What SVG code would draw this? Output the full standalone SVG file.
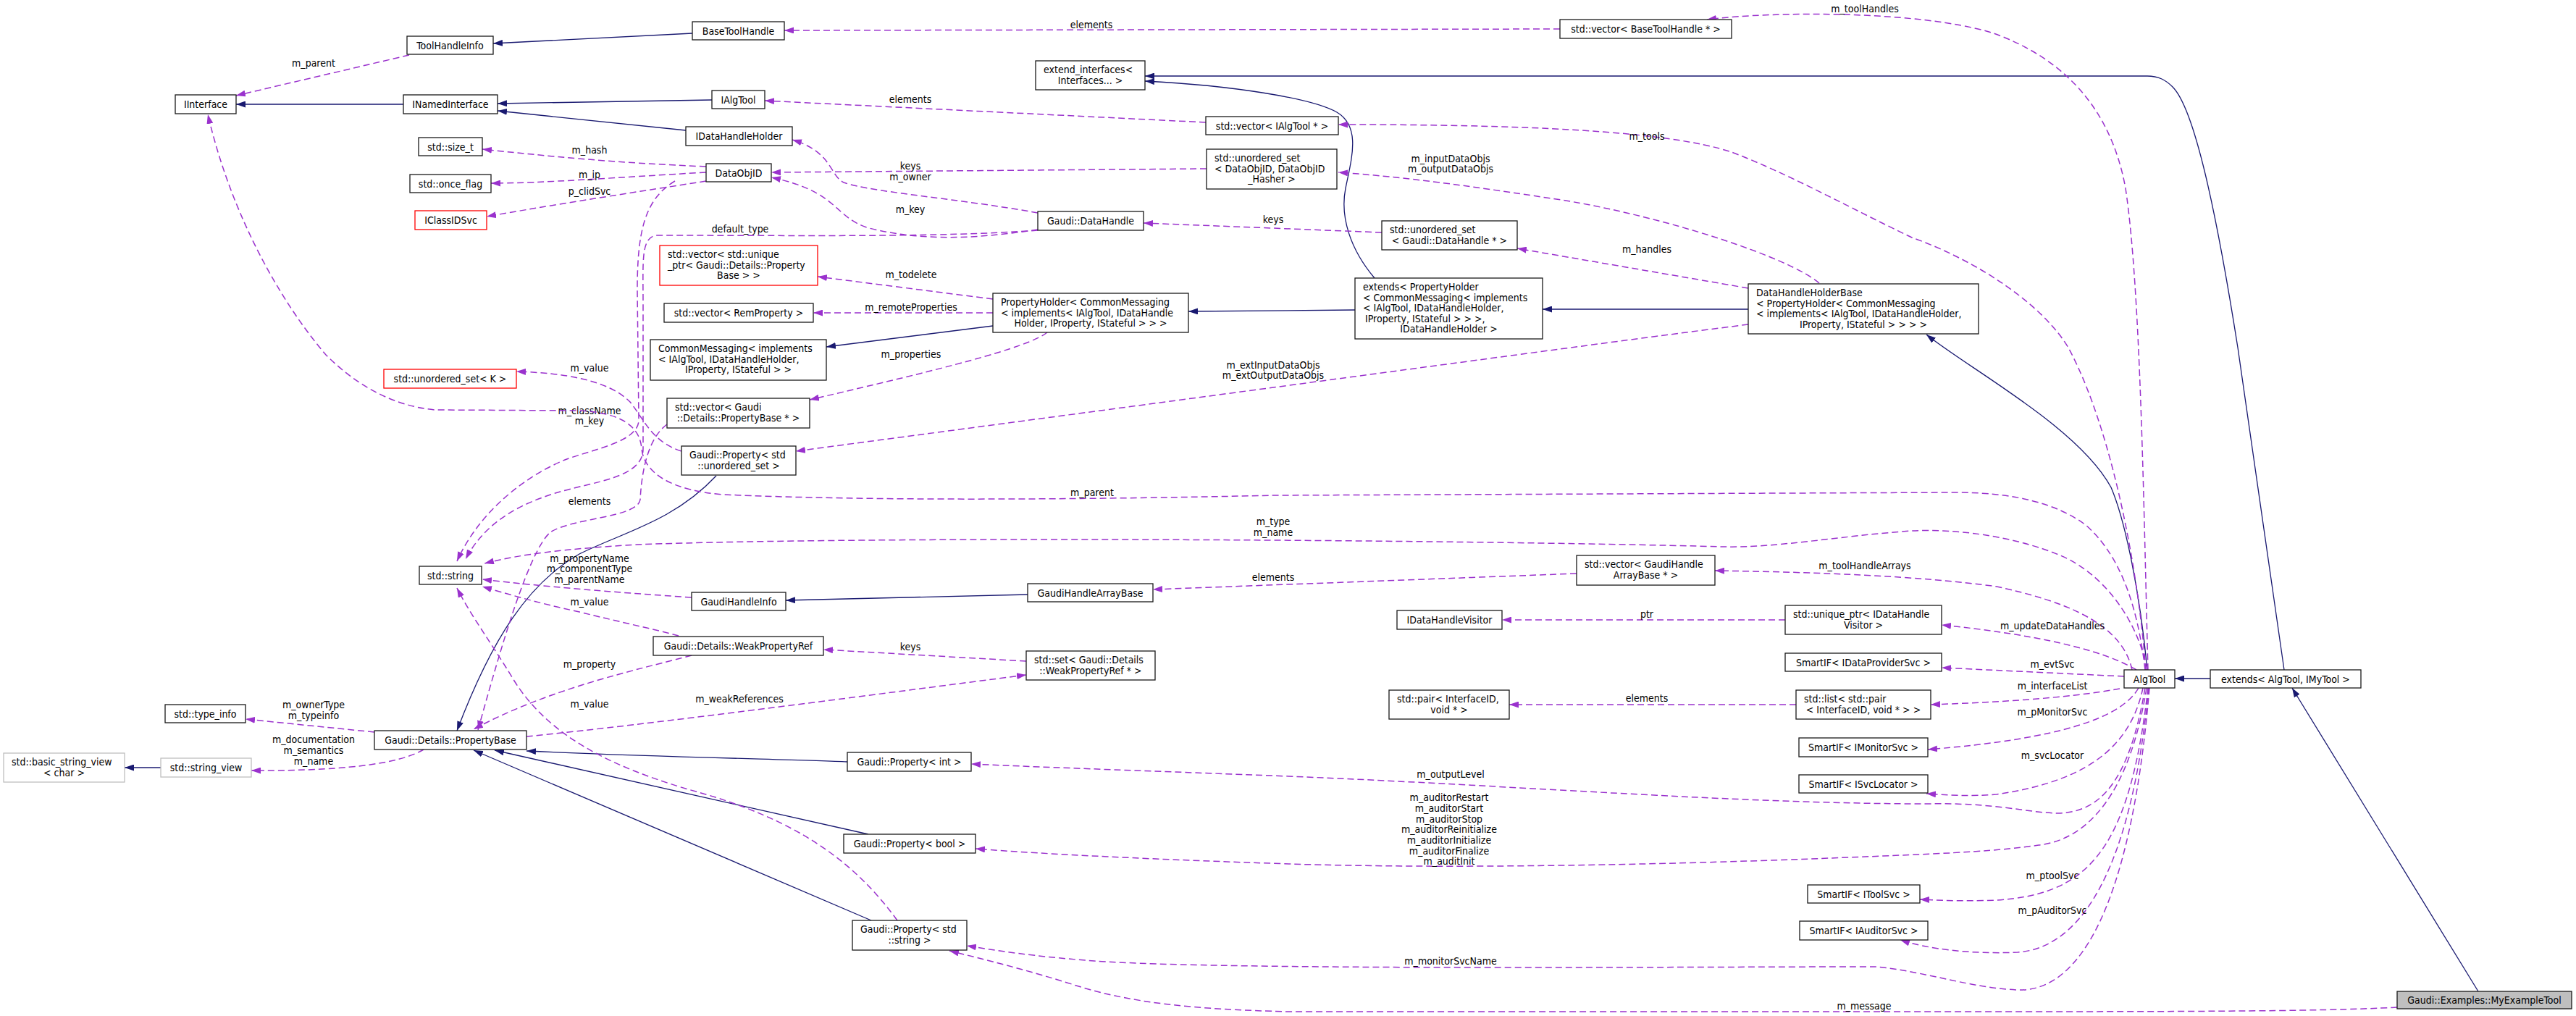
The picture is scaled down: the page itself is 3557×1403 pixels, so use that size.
<svg xmlns="http://www.w3.org/2000/svg" width="3557" height="1403" viewBox="0 0 3557 1403">
<style>
text{font-family:"DejaVu Sans Condensed","DejaVu Sans","Liberation Sans",sans-serif;font-stretch:condensed;font-size:14px;fill:#000}
.n rect{fill:#fff;stroke:#1a1a1a;stroke-width:1.3}
.n.red rect{stroke:#ff0000}
.n.ext rect{stroke:#bfbfbf}
.n.root rect{fill:#bfbfbf}
.c{text-anchor:middle}
.inh{fill:none;stroke:#191970;stroke-width:1.3;marker-end:url(#aB)}
.use{fill:none;stroke:#9a32cd;stroke-width:1.5;stroke-dasharray:9,5;marker-end:url(#aP)}
.lbl{text-anchor:middle}
</style>
<defs>
<marker id="aB" viewBox="0 0 13 9" refX="13" refY="4.5" markerWidth="13" markerHeight="9" markerUnits="userSpaceOnUse" orient="auto"><path d="M0,0L13,4.5L0,9z" fill="#191970"/></marker>
<marker id="aP" viewBox="0 0 13 9" refX="13" refY="4.5" markerWidth="13" markerHeight="9" markerUnits="userSpaceOnUse" orient="auto"><path d="M0,0L13,4.5L0,9z" fill="#9a32cd"/></marker>
</defs>
<rect width="3557" height="1403" fill="#fff"/>
<g id="connectors">
<path class="inh" d="M557,144L326,144"/>
<path class="inh" d="M956,46L681,60"/>
<path class="inh" d="M983,138L687,143"/>
<path class="inh" d="M947,180L687,153"/>
<path class="inh" d="M1898,384C1865,345 1850,300 1858,260C1866,220 1880,175 1846,155C1810,135 1700,118 1581,112"/>
<path class="inh" d="M3154,925L3090,480C3060,290 3030,150 3000,120C2990,110 2980,105 2965,105L1581,105"/>
<path class="inh" d="M2414,427L2130,427"/>
<path class="inh" d="M1871,428L1641,430"/>
<path class="inh" d="M1371,450L1141,479"/>
<path class="inh" d="M2965,925C2955,820 2935,720 2915,673C2870,590 2720,510 2660,462"/>
<path class="inh" d="M3052,937L3003,937"/>
<path class="inh" d="M3422,1369L3165,950"/>
<path class="inh" d="M1419,821L1085,829"/>
<path class="inh" d="M989,657C930,720 860,735 800,765C730,805 680,880 631,1009"/>
<path class="inh" d="M1170,1052C1100,1049 900,1045 727,1037"/>
<path class="inh" d="M1199,1152L683,1036"/>
<path class="inh" d="M1203,1271L654,1036"/>
<path class="inh" d="M222,1060L172,1060"/>

<g><path class="use" d="M565,76L326,132"/><text class="lbl" x="433" y="92">m_parent</text></g>
<g><path class="use" d="M2154,40L1083,42"/><text class="lbl" x="1507" y="39">elements</text></g>
<g><path class="use" d="M2966,925C2960,700 2956,400 2935,260C2915,150 2850,80 2750,45C2650,15 2450,15 2357,27"/><text class="lbl" x="2575" y="17">m_toolHandles</text></g>
<g><path class="use" d="M1665,169L1056,139"/><text class="lbl" x="1257" y="142">elements</text></g>
<g><path class="use" d="M2963,925C2950,760 2910,580 2856,480C2820,420 2730,360 2640,328C2560,290 2470,240 2391,210C2300,180 2100,172 1848,172"/><text class="lbl" x="2274" y="193">m_tools</text></g>
<g><path class="use" d="M1666,233L1065,238"/><text class="lbl" x="1257" y="234">keys</text></g>
<g><path class="use" d="M2512,391C2470,355 2300,300 2162,277C2050,260 1950,245 1848,238"/><text class="lbl" x="2003" y="224">m_inputDataObjs</text><text class="lbl" x="2003" y="238">m_outputDataObjs</text></g>
<g><path class="use" d="M1433,294C1330,275 1200,265 1165,252C1145,242 1150,210 1094,193"/><text class="lbl" x="1257" y="249">m_owner</text></g>
<g><path class="use" d="M1433,317C1360,328 1280,335 1200,315C1150,300 1160,265 1065,245"/><text class="lbl" x="1257" y="294">m_key</text></g>
<g><path class="use" d="M1433,318C1300,328 1100,325 905,325C885,330 888,360 888,420L888,620C888,660 820,665 770,680C720,695 670,720 643,772"/><text class="lbl" x="1022" y="321">default_type</text></g>
<g><path class="use" d="M932,250C890,275 880,320 880,400L882,580C882,610 820,620 780,635C720,660 660,710 631,775"/><text class="lbl" x="814" y="572">m_className</text><text class="lbl" x="814" y="586">m_key</text></g>
<g><path class="use" d="M1908,321L1579,308"/><text class="lbl" x="1758" y="308">keys</text></g>
<g><path class="use" d="M2414,398L2095,343"/><text class="lbl" x="2274" y="349">m_handles</text></g>
<g><path class="use" d="M1371,413L1129,382"/><text class="lbl" x="1258" y="384">m_todelete</text></g>
<g><path class="use" d="M1371,432L1123,432"/><text class="lbl" x="1258" y="429">m_remoteProperties</text></g>
<g><path class="use" d="M1446,459C1420,480 1300,510 1118,552"/><text class="lbl" x="1258" y="494">m_properties</text></g>
<g><path class="use" d="M2414,448C2200,475 1800,530 1099,623"/><text class="lbl" x="1758" y="509">m_extInputDataObjs</text><text class="lbl" x="1758" y="523">m_extOutputDataObjs</text></g>
<g><path class="use" d="M941,623C900,610 890,580 870,555C840,525 780,515 713,513"/><text class="lbl" x="814" y="513">m_value</text></g>
<g><path class="use" d="M921,586C895,605 886,650 884,690C880,715 790,715 760,735C730,760 690,900 660,1008"/><text class="lbl" x="814" y="697">elements</text></g>
<g><path class="use" d="M955,825C850,818 750,810 666,800"/><text class="lbl" x="814" y="776">m_propertyName</text><text class="lbl" x="814" y="790">m_componentType</text><text class="lbl" x="814" y="805">m_parentName</text></g>
<g><path class="use" d="M2965,925C2950,850 2900,790 2845,767C2780,740 2700,730 2640,733C2540,740 2450,757 2380,755C2000,745 1200,740 880,752C780,758 720,765 669,778"/><text class="lbl" x="1758" y="725">m_type</text><text class="lbl" x="1758" y="740">m_name</text></g>
<g><path class="use" d="M937,878C900,868 860,860 800,845C740,832 700,820 666,810"/><text class="lbl" x="814" y="836">m_value</text></g>
<g><path class="use" d="M955,905C880,925 760,950 654,1007"/><text class="lbl" x="814" y="922">m_property</text></g>
<g><path class="use" d="M1239,1271C1180,1190 1100,1130 950,1090C850,1060 760,1020 710,940C680,890 650,850 631,812"/><text class="lbl" x="814" y="977">m_value</text></g>
<g><path class="use" d="M727,1017C900,1000 1200,960 1417,932"/><text class="lbl" x="1021" y="970">m_weakReferences</text></g>
<g><path class="use" d="M1417,913L1137,897"/><text class="lbl" x="1257" y="898">keys</text></g>
<g><path class="use" d="M517,1011L339,993"/><text class="lbl" x="433" y="978">m_ownerType</text><text class="lbl" x="433" y="993">m_typeinfo</text></g>
<g><path class="use" d="M585,1035C560,1050 500,1065 347,1064"/><text class="lbl" x="433" y="1026">m_documentation</text><text class="lbl" x="433" y="1041">m_semantics</text><text class="lbl" x="433" y="1056">m_name</text></g>
<g><path class="use" d="M975,230C850,225 750,215 666,206"/><text class="lbl" x="814" y="212">m_hash</text></g>
<g><path class="use" d="M975,238C850,245 750,253 678,253"/><text class="lbl" x="814" y="246">m_ip</text></g>
<g><path class="use" d="M975,250C880,265 780,280 672,299"/><text class="lbl" x="814" y="269">p_clidSvc</text></g>
<g><path class="use" d="M2944,925C2930,860 2850,830 2757,810C2650,795 2500,790 2368,788"/><text class="lbl" x="2575" y="786">m_toolHandleArrays</text></g>
<g><path class="use" d="M2177,792L1592,814"/><text class="lbl" x="1758" y="802">elements</text></g>
<g><path class="use" d="M2465,856L2074,856"/><text class="lbl" x="2274" y="853">ptr</text></g>
<g><path class="use" d="M2950,925C2900,895 2800,875 2681,863"/><text class="lbl" x="2834" y="869">m_updateDataHandles</text></g>
<g><path class="use" d="M2933,934L2681,922"/><text class="lbl" x="2834" y="922">m_evtSvc</text></g>
<g><path class="use" d="M2927,951C2850,965 2750,970 2666,973"/><text class="lbl" x="2834" y="952">m_interfaceList</text></g>
<g><path class="use" d="M2480,973L2084,973"/><text class="lbl" x="2274" y="969">elements</text></g>
<g><path class="use" d="M2953,950C2930,990 2850,1020 2662,1035"/><text class="lbl" x="2834" y="988">m_pMonitorSvc</text></g>
<g><path class="use" d="M2959,950C2940,1040 2870,1080 2757,1097C2720,1100 2690,1098 2660,1096"/><text class="lbl" x="2834" y="1048">m_svcLocator</text></g>
<g><path class="use" d="M2962,950C2940,1080 2900,1120 2845,1123C2800,1123 2760,1108 2660,1110C2400,1110 2100,1085 1780,1072C1600,1065 1450,1060 1341,1055"/><text class="lbl" x="2003" y="1074">m_outputLevel</text></g>
<g><path class="use" d="M2964,950C2940,1100 2880,1160 2815,1167C2760,1175 2700,1178 2600,1182C2300,1195 2000,1200 1780,1193C1600,1187 1450,1180 1347,1172"/><text class="lbl" x="2001" y="1106">m_auditorRestart</text><text class="lbl" x="2001" y="1121">m_auditorStart</text><text class="lbl" x="2001" y="1136">m_auditorStop</text><text class="lbl" x="2001" y="1150">m_auditorReinitialize</text><text class="lbl" x="2001" y="1165">m_auditorInitialize</text><text class="lbl" x="2001" y="1180">m_auditorFinalize</text><text class="lbl" x="2001" y="1194">m_auditInit</text></g>
<g><path class="use" d="M2966,950C2940,1180 2880,1235 2757,1243C2700,1245 2680,1243 2651,1242"/><text class="lbl" x="2834" y="1214">m_ptoolSvc</text></g>
<g><path class="use" d="M2967,950C2940,1230 2860,1310 2786,1315C2720,1318 2660,1310 2624,1298"/><text class="lbl" x="2834" y="1262">m_pAuditorSvc</text></g>
<g><path class="use" d="M2968,950C2940,1280 2860,1370 2786,1367C2720,1364 2660,1342 2592,1335C2300,1335 1700,1340 1511,1327C1420,1320 1380,1313 1335,1306"/><text class="lbl" x="2003" y="1332">m_monitorSvcName</text></g>
<g><path class="use" d="M3310,1391C3200,1397 3000,1397 2640,1397L1780,1397C1650,1394 1560,1385 1483,1360C1420,1340 1360,1325 1311,1313"/><text class="lbl" x="2574" y="1394">m_message</text></g>
<g><path class="use" d="M2962,925C2950,820 2920,760 2880,725C2840,695 2780,680 2700,680L1760,684C1500,690 1200,692 1000,683C930,678 890,655 886,620C884,590 860,570 800,567L600,566C540,560 490,530 450,490C390,420 320,300 287,158"/><text class="lbl" x="1508" y="685">m_parent</text></g>
</g>

<g id="n_IInterface" class="n"><rect x="242" y="131" width="84" height="26"/><text class="c" x="284" y="149">IInterface</text></g>
<g id="n_ToolHandleInfo" class="n"><rect x="562" y="50" width="119" height="25"/><text class="c" x="621.5" y="67.5">ToolHandleInfo</text></g>
<g id="n_INamedInterface" class="n"><rect x="557" y="131" width="130" height="26"/><text class="c" x="622" y="149">INamedInterface</text></g>
<g id="n_size_t" class="n"><rect x="578" y="190" width="88" height="25"/><text class="c" x="622" y="207.5">std::size_t</text></g>
<g id="n_once_flag" class="n"><rect x="566" y="241" width="112" height="25"/><text class="c" x="622" y="258.5">std::once_flag</text></g>
<g id="n_IClassIDSvc" class="n red"><rect x="573" y="291" width="99" height="26"/><text class="c" x="622.5" y="309">IClassIDSvc</text></g>
<g id="n_BaseToolHandle" class="n"><rect x="956" y="30" width="127" height="25"/><text class="c" x="1019.5" y="47.5">BaseToolHandle</text></g>
<g id="n_extend_interfaces" class="n"><rect x="1430" y="84" width="151" height="40"/><text x="1441" y="101">extend_interfaces&lt;</text><text class="c" x="1505.5" y="115.5">Interfaces... &gt;</text></g>
<g id="n_IAlgTool" class="n"><rect x="983" y="125" width="73" height="25"/><text class="c" x="1019.5" y="142.5">IAlgTool</text></g>
<g id="n_IDataHandleHolder" class="n"><rect x="947" y="175" width="147" height="26"/><text class="c" x="1020.5" y="193">IDataHandleHolder</text></g>
<g id="n_DataObjID" class="n"><rect x="975" y="226" width="90" height="25"/><text class="c" x="1020" y="243.5">DataObjID</text></g>
<g id="n_vecIAlgTool" class="n"><rect x="1665" y="161" width="183" height="25"/><text class="c" x="1756.5" y="178.5">std::vector&lt; IAlgTool * &gt;</text></g>
<g id="n_usetDataObjID" class="n"><rect x="1666" y="206" width="180" height="55"/><text x="1677" y="223">std::unordered_set</text><text x="1677" y="237.5">&lt; DataObjID, DataObjID</text><text class="c" x="1756" y="252">_Hasher &gt;</text></g>
<g id="n_DataHandle" class="n"><rect x="1433" y="292" width="146" height="26"/><text class="c" x="1506" y="310">Gaudi::DataHandle</text></g>
<g id="n_vecUniquePtr" class="n red"><rect x="911" y="339" width="218" height="55"/><text x="922" y="356">std::vector&lt; std::unique</text><text x="922" y="370.5">_ptr&lt; Gaudi::Details::Property</text><text class="c" x="1020" y="385">Base &gt; &gt;</text></g>
<g id="n_vecRemProperty" class="n"><rect x="917" y="419" width="206" height="26"/><text class="c" x="1020" y="437">std::vector&lt; RemProperty &gt;</text></g>
<g id="n_PropertyHolder" class="n"><rect x="1371" y="405" width="270" height="54"/><text x="1382" y="422">PropertyHolder&lt; CommonMessaging</text><text x="1382" y="436.5">&lt; implements&lt; IAlgTool, IDataHandle</text><text class="c" x="1506" y="451">Holder, IProperty, IStateful &gt; &gt; &gt;</text></g>
<g id="n_CommonMessaging" class="n"><rect x="898" y="469" width="243" height="56"/><text x="909" y="486">CommonMessaging&lt; implements</text><text x="909" y="500.5">&lt; IAlgTool, IDataHandleHolder,</text><text class="c" x="1019.5" y="515">IProperty, IStateful &gt; &gt;</text></g>
<g id="n_vecBaseToolHandle" class="n"><rect x="2154" y="27" width="237" height="26"/><text class="c" x="2272.5" y="45">std::vector&lt; BaseToolHandle * &gt;</text></g>
<g id="n_usetDataHandle" class="n"><rect x="1908" y="305" width="187" height="40"/><text x="1919" y="322">std::unordered_set</text><text class="c" x="2001.5" y="336.5">&lt; Gaudi::DataHandle * &gt;</text></g>
<g id="n_extendsPH" class="n"><rect x="1871" y="384" width="259" height="84"/><text x="1882" y="401">extends&lt; PropertyHolder</text><text x="1882" y="415.5">&lt; CommonMessaging&lt; implements</text><text x="1882" y="430">&lt; IAlgTool, IDataHandleHolder,</text><text x="1885" y="444.5">IProperty, IStateful &gt; &gt; &gt;,</text><text class="c" x="2000.5" y="459">IDataHandleHolder &gt;</text></g>
<g id="n_DHHB" class="n"><rect x="2414" y="392" width="318" height="69"/><text x="2425" y="409">DataHandleHolderBase</text><text x="2425" y="423.5">&lt; PropertyHolder&lt; CommonMessaging</text><text x="2425" y="438">&lt; implements&lt; IAlgTool, IDataHandleHolder,</text><text class="c" x="2573" y="452.5">IProperty, IStateful &gt; &gt; &gt; &gt;</text></g>
<g id="n_usetK" class="n red"><rect x="530" y="510" width="183" height="26"/><text class="c" x="621.5" y="528">std::unordered_set&lt; K &gt;</text></g>
<g id="n_string" class="n"><rect x="579" y="782" width="86" height="25"/><text class="c" x="622" y="799.5">std::string</text></g>
<g id="n_vecPropertyBase" class="n"><rect x="921" y="550" width="197" height="41"/><text x="932" y="567">std::vector&lt; Gaudi</text><text class="c" x="1019.5" y="581.5">::Details::PropertyBase * &gt;</text></g>
<g id="n_PropUset" class="n"><rect x="941" y="616" width="158" height="40"/><text x="952" y="633">Gaudi::Property&lt; std</text><text class="c" x="1020" y="647.5">::unordered_set &gt;</text></g>
<g id="n_GaudiHandleInfo" class="n"><rect x="955" y="818" width="130" height="25"/><text class="c" x="1020" y="835.5">GaudiHandleInfo</text></g>
<g id="n_GHAB" class="n"><rect x="1419" y="806" width="173" height="25"/><text class="c" x="1505.5" y="823.5">GaudiHandleArrayBase</text></g>
<g id="n_WeakPropertyRef" class="n"><rect x="902" y="879" width="235" height="26"/><text class="c" x="1019.5" y="897">Gaudi::Details::WeakPropertyRef</text></g>
<g id="n_setWPR" class="n"><rect x="1417" y="899" width="178" height="40"/><text x="1428" y="916">std::set&lt; Gaudi::Details</text><text class="c" x="1506" y="930.5">::WeakPropertyRef * &gt;</text></g>
<g id="n_vecGHAB" class="n"><rect x="2177" y="767" width="191" height="41"/><text x="2188" y="784">std::vector&lt; GaudiHandle</text><text class="c" x="2272.5" y="798.5">ArrayBase * &gt;</text></g>
<g id="n_IDataHandleVisitor" class="n"><rect x="1929" y="843" width="145" height="26"/><text class="c" x="2001.5" y="861">IDataHandleVisitor</text></g>
<g id="n_uptrVisitor" class="n"><rect x="2465" y="836" width="216" height="40"/><text x="2476" y="853">std::unique_ptr&lt; IDataHandle</text><text class="c" x="2573" y="867.5">Visitor &gt;</text></g>
<g id="n_SmartIFDataProvider" class="n"><rect x="2465" y="902" width="216" height="25"/><text class="c" x="2573" y="919.5">SmartIF&lt; IDataProviderSvc &gt;</text></g>
<g id="n_AlgTool" class="n"><rect x="2933" y="925" width="70" height="25"/><text class="c" x="2968" y="942.5">AlgTool</text></g>
<g id="n_extendsAlgTool" class="n"><rect x="3052" y="925" width="208" height="25"/><text class="c" x="3156" y="942.5">extends&lt; AlgTool, IMyTool &gt;</text></g>
<g id="n_pair" class="n"><rect x="1918" y="953" width="166" height="40"/><text x="1929" y="970">std::pair&lt; InterfaceID,</text><text class="c" x="2001" y="984.5">void * &gt;</text></g>
<g id="n_list" class="n"><rect x="2480" y="953" width="186" height="40"/><text x="2491" y="970">std::list&lt; std::pair</text><text class="c" x="2573" y="984.5">&lt; InterfaceID, void * &gt; &gt;</text></g>
<g id="n_SmartIFMonitor" class="n"><rect x="2484" y="1019" width="178" height="26"/><text class="c" x="2573" y="1037">SmartIF&lt; IMonitorSvc &gt;</text></g>
<g id="n_SmartIFSvcLocator" class="n"><rect x="2484" y="1070" width="178" height="25"/><text class="c" x="2573" y="1087.5">SmartIF&lt; ISvcLocator &gt;</text></g>
<g id="n_SmartIFToolSvc" class="n"><rect x="2496" y="1222" width="155" height="25"/><text class="c" x="2573.5" y="1239.5">SmartIF&lt; IToolSvc &gt;</text></g>
<g id="n_SmartIFAuditor" class="n"><rect x="2485" y="1272" width="177" height="26"/><text class="c" x="2573.5" y="1290">SmartIF&lt; IAuditorSvc &gt;</text></g>
<g id="n_MyExampleTool" class="n root"><rect x="3310" y="1369" width="241" height="24"/><text class="c" x="3430.5" y="1386">Gaudi::Examples::MyExampleTool</text></g>
<g id="n_type_info" class="n"><rect x="228" y="973" width="111" height="25"/><text class="c" x="283.5" y="990.5">std::type_info</text></g>
<g id="n_basic_string_view" class="n ext"><rect x="5" y="1040" width="167" height="40"/><text x="16" y="1057">std::basic_string_view</text><text class="c" x="88.5" y="1071.5">&lt; char &gt;</text></g>
<g id="n_string_view" class="n ext"><rect x="222" y="1047" width="125" height="26"/><text class="c" x="284.5" y="1065">std::string_view</text></g>
<g id="n_PropertyBase" class="n"><rect x="517" y="1009" width="210" height="26"/><text class="c" x="622" y="1027">Gaudi::Details::PropertyBase</text></g>
<g id="n_PropInt" class="n"><rect x="1170" y="1039" width="171" height="26"/><text class="c" x="1255.5" y="1057">Gaudi::Property&lt; int &gt;</text></g>
<g id="n_PropBool" class="n"><rect x="1165" y="1152" width="182" height="26"/><text class="c" x="1256" y="1170">Gaudi::Property&lt; bool &gt;</text></g>
<g id="n_PropString" class="n"><rect x="1177" y="1271" width="158" height="41"/><text x="1188" y="1288">Gaudi::Property&lt; std</text><text class="c" x="1256" y="1302.5">::string &gt;</text></g>
</svg>
